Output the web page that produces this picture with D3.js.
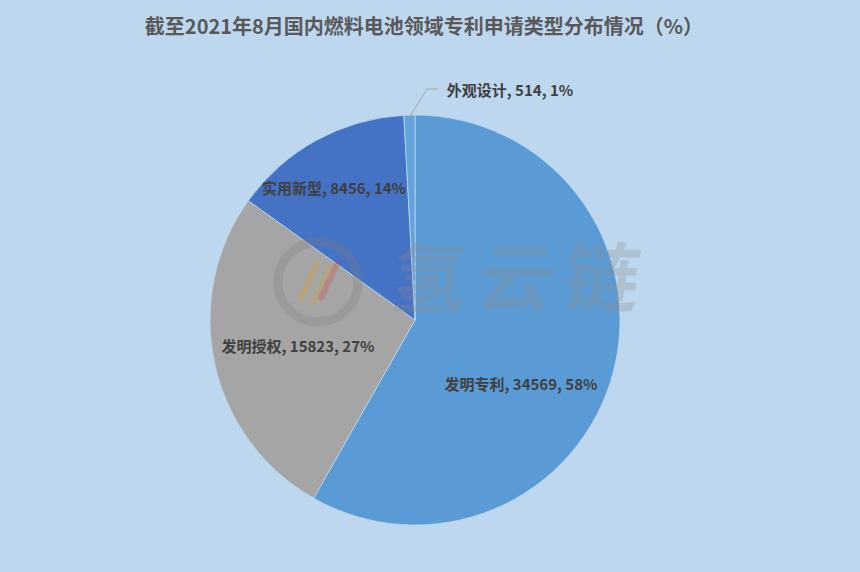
<!DOCTYPE html>
<html><head><meta charset="utf-8">
<script src="https://cdn.jsdelivr.net/npm/d3@7/dist/d3.min.js"></script>
<style>body{margin:0;background:#bdd7ee;}svg{display:block;}</style>
</head><body>
<script>
const categories = ["发明专利","发明授权","实用新型","外观设计"];
const values = [34569, 15823, 8456, 514];
const percents = ["58%","27%","14%","1%"];
const colors = ["#5b9bd5","#a5a5a5","#4472c4","#64a3da"];
const title = "截至2021年8月国内燃料电池领域专利申请类型分布情况（%）";

const W=860,H=572, cx=415, cy=320, R=205;
const svg = d3.select("body").append("svg").attr("width",W).attr("height",H);
svg.append("rect").attr("width",W).attr("height",H).attr("fill","#bdd7ee");
const font = "'Noto Sans CJK SC','Microsoft YaHei',sans-serif";
svg.append("text").attr("x",424).attr("y",34).attr("text-anchor","middle")
  .attr("font-family",font).attr("font-weight","bold").attr("font-size",20)
  .attr("fill","#595959").text(title);

const data = categories.map((c,i)=>({c,v:values[i],p:percents[i],col:colors[i]}));
const pie = d3.pie().value(d=>d.v).sort(null);
const arcs = pie(data);
const arc = d3.arc().innerRadius(0).outerRadius(R);
const g = svg.append("g").attr("transform",`translate(${cx},${cy})`);
g.selectAll("path").data(arcs).join("path").attr("d",arc)
  .attr("fill",d=>d.data.col).attr("stroke","#bdd7ee").attr("stroke-width",0.8);

// watermark
const wm = svg.append("g").attr("opacity",0.28);
wm.append("circle").attr("cx",318).attr("cy",282).attr("r",40).attr("fill","none").attr("stroke","#7f7f7f").attr("stroke-width",9);
wm.append("path").attr("d","M300,300 L318,262 M312,305 L332,265").attr("stroke","#e0a020").attr("stroke-width",6).attr("fill","none");
wm.append("path").attr("d","M320,300 L338,262").attr("stroke","#e04040").attr("stroke-width",6).attr("fill","none");
wm.append("text").attr("x",520).attr("y",306).attr("text-anchor","middle")
  .attr("font-family",font).attr("font-weight","bold").attr("font-size",76)
  .attr("fill","#8a8a8a").attr("letter-spacing",10).attr("transform","skewX(-8)").attr("dx",40).text("氢云链");

const labelPos = [[521,386],[298,348],[334,190],[510,92]];
const lab = svg.append("g").attr("font-family",font).attr("font-weight","bold").attr("font-size",15).attr("fill","#404040");
arcs.forEach((a,i)=>{
  lab.append("text").attr("x",labelPos[i][0]).attr("y",labelPos[i][1]).attr("text-anchor","middle")
    .attr("dominant-baseline","middle")
    .text(`${a.data.c}, ${a.data.v}, ${a.data.p}`);
});
// leader line for smallest slice
const small = arcs[3];
const mid = (small.startAngle+small.endAngle)/2;
const ex = cx + R*Math.sin(mid), ey = cy - R*Math.cos(mid);
svg.append("polyline").attr("points",`${ex},${ey+2} ${427},${89} ${438},${89}`)
  .attr("fill","none").attr("stroke","#a6a6a6").attr("stroke-width",1);
</script>
</body></html>
